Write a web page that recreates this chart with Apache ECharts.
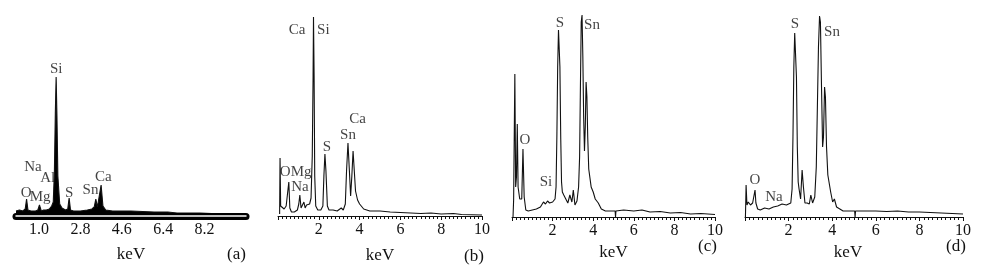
<!DOCTYPE html>
<html><head><meta charset="utf-8">
<script src="https://cdn.jsdelivr.net/npm/echarts@6.0.0/dist/echarts.min.js"></script>
<style>html,body{margin:0;padding:0;background:#fff}#c{width:1000px;height:274px}</style>
</head><body><div id="c"></div>
<script>
// ---- Panel (a) ----
const aKeV = [0, 0.15, 0.3, 0.4, 0.46, 0.52, 0.65, 0.85, 0.95, 1.02, 1.1, 1.2, 1.26, 1.32, 1.45, 1.55, 1.62, 1.67, 1.71, 1.745, 1.78, 1.82, 1.9, 2.0, 2.15, 2.25, 2.31, 2.37, 2.5, 2.8, 3.1, 3.3, 3.4, 3.47, 3.54, 3.6, 3.7, 3.78, 3.9, 4.2, 5.0, 6.0, 6.6, 7.0, 8.0, 9.0, 10];
const aCounts = [5, 6, 5, 7, 17, 6, 5, 5, 6, 11, 5, 6, 8, 6, 7, 10, 14, 45, 103, 139, 100, 40, 12, 8, 6, 7, 18, 6, 5, 5, 6, 7, 9, 17, 9, 11, 31, 10, 6, 5, 5, 4, 4, 3, 3, 2, 2];
const aTickValues = [1.0, 2.8, 4.6, 6.4, 8.2];
const aLabelNames = ['Si', 'Na', 'Al', 'O', 'Mg', 'S', 'Sn', 'Ca'];
const aLabelKeV = [1.75, 0.74, 1.38, 0.44, 1.05, 2.31, 3.24, 3.80];
const aLabelY = [147, 49, 38, 23, 19, 23, 26, 39];

// ---- Panel (b) ----
const bKeV = [0.08, 0.1, 0.13, 0.2, 0.3, 0.4, 0.48, 0.53, 0.58, 0.66, 0.8, 0.95, 1.02, 1.07, 1.13, 1.2, 1.27, 1.33, 1.4, 1.47, 1.55, 1.62, 1.68, 1.72, 1.74, 1.77, 1.8, 1.85, 1.95, 2.1, 2.2, 2.25, 2.3, 2.35, 2.42, 2.5, 2.7, 2.9, 3.1, 3.2, 3.3, 3.36, 3.43, 3.5, 3.56, 3.62, 3.68, 3.74, 3.8, 3.9, 4.0, 4.2, 4.5, 5.0, 5.5, 6.0, 6.5, 7.0, 7.5, 8.0, 8.6, 9.0, 10];
const bCounts = [2, 58, 10, 9, 7, 10, 8, 34, 8, 4, 4, 6, 12, 21, 8, 6, 14, 8, 11, 9, 12, 18, 60, 140, 199, 140, 40, 10, 6, 6, 10, 40, 62, 45, 10, 6, 6, 5, 8, 6, 12, 45, 73, 45, 20, 40, 65, 45, 25, 16, 12, 7, 5, 5, 4, 3.5, 3, 2.5, 3, 2, 2.5, 1.5, 1];
const bLabelNames = ['Ca', 'Si', 'Ca', 'Sn', 'S', 'O', 'Mg', 'Na'];
const bLabelKeV = [0.93, 2.22, 3.90, 3.43, 2.40, 0.35, 1.13, 1.08];
const bLabelY = [186, 186, 97, 81, 69, 44, 44, 29];

// ---- Panel (c) ----
const cKeV = [0.05, 0.08, 0.1, 0.14, 0.18, 0.22, 0.26, 0.3, 0.38, 0.48, 0.54, 0.6, 0.68, 0.8, 1.0, 1.2, 1.4, 1.55, 1.65, 1.75, 1.85, 2.0, 2.12, 2.17, 2.21, 2.25, 2.29, 2.32, 2.36, 2.4, 2.44, 2.48, 2.55, 2.65, 2.75, 2.85, 2.95, 3.02, 3.1, 3.2, 3.28, 3.33, 3.37, 3.41, 3.45, 3.49, 3.53, 3.57, 3.61, 3.65, 3.69, 3.73, 3.78, 3.84, 3.9, 4.0, 4.1, 4.25, 4.4, 4.6, 4.8, 5.08, 5.1, 5.12, 5.5, 6.0, 6.4, 6.8, 7.3, 7.8, 8.3, 8.8, 9.3, 10];
const cCounts = [0, 17, 17, 143, 30, 40, 93, 30, 18, 18, 68, 20, 7, 6, 7, 8, 10, 15, 13, 16, 14, 15, 18, 30, 80, 150, 187, 189, 150, 80, 35, 25, 22, 18, 14, 22, 15, 27, 12, 16, 30, 60, 130, 195, 202, 160, 100, 66, 90, 135, 120, 80, 48, 48, 30, 25, 18, 14, 8, 6, 6, 6, 0, 6, 7, 6, 7, 5, 5.5, 4, 4.5, 3, 3.5, 2.5];
const cLabelNames = ['S', 'Sn', 'O', 'Si'];
const cLabelKeV = [2.36, 3.94, 0.64, 1.67];
const cLabelY = [194, 192, 77, 35];

// ---- Panel (d) ----
const dKeV = [0.02, 0.05, 0.09, 0.15, 0.25, 0.35, 0.42, 0.46, 0.5, 0.58, 0.7, 0.9, 1.1, 1.3, 1.5, 1.7, 1.9, 2.1, 2.16, 2.2, 2.24, 2.28, 2.32, 2.36, 2.4, 2.44, 2.48, 2.55, 2.62, 2.68, 2.75, 2.85, 2.95, 3.02, 3.1, 3.2, 3.27, 3.32, 3.37, 3.42, 3.46, 3.51, 3.56, 3.6, 3.65, 3.69, 3.74, 3.8, 3.86, 3.93, 4.02, 4.1, 4.2, 4.35, 4.5, 4.7, 5.03, 5.05, 5.07, 5.5, 6.0, 6.5, 7.0, 7.5, 8.0, 8.5, 9.0, 9.5, 10];
const dCounts = [0, 32, 12, 15, 12, 14, 12, 27, 14, 8, 7, 9, 8, 10, 11, 13, 12, 14, 28, 80, 150, 184, 185, 140, 70, 35, 28, 18, 47, 30, 14, 14, 13, 22, 14, 20, 50, 110, 170, 201, 195, 130, 70, 80, 130, 120, 70, 42, 44, 25, 15, 18, 10, 8, 6, 6, 6, 0, 6, 6, 6, 5.5, 6, 5, 5, 4.5, 4, 3.5, 3];
const dLabelNames = ['S', 'Sn', 'O', 'Na'];
const dLabelKeV = [2.29, 3.99, 0.46, 1.33];
const dLabelY = [193, 185, 37, 20];

const panelTags = ['(a)', '(b)', '(c)', '(d)'];
const xTitle = 'keV';

const FONT = '"Liberation Serif", "Times New Roman", serif';
const INK = '#111';
const zip = (xs, ys) => xs.map((x, i) => [x, ys[i]]);
const labelData = (n, xs, ys) => n.map((name, i) => ({ name, value: [xs[i], ys[i]] }));

const chart = echarts.init(document.getElementById('c'), null, { renderer: 'canvas' });

const grids = [
  { left: 16, top: 14, width: 230, height: 202 },
  { left: 278, top: 14, width: 204, height: 202 },
  { left: 512, top: 15, width: 203, height: 202 },
  { left: 745, top: 15, width: 218, height: 202 }
];

const txt = { fontFamily: FONT, fontSize: 16, color: INK };
const txtBig = { fontFamily: FONT, fontSize: 17, color: INK };

function stdX(gi, nameGap, namePad) {
  return {
    type: 'value', gridIndex: gi, min: 0, max: 10, interval: 2, position: 'bottom',
    name: xTitle, nameLocation: 'middle', nameGap: nameGap,
    nameTextStyle: Object.assign({}, txtBig, { padding: namePad || 0 }),
    axisLine: { show: true, lineStyle: { color: INK, width: 1 } },
    axisTick: { show: true, length: 4, lineStyle: { color: INK } },
    minorTick: { show: true, splitNumber: 10, length: 3, lineStyle: { color: INK } },
    axisLabel: Object.assign({}, txt, { margin: 6, showMinLabel: false }),
    splitLine: { show: false }, minorSplitLine: { show: false }
  };
}

const xAxes = [
  {
    type: 'value', gridIndex: 0, min: 0, max: 10, position: 'bottom', z: 5,
    name: xTitle, nameLocation: 'middle', nameGap: 30, nameTextStyle: txtBig,
    axisLine: { show: true, lineStyle: { color: '#000', width: 7 } },
    axisTick: { show: false },
    axisLabel: Object.assign({}, txt, { margin: 6, customValues: aTickValues, formatter: v => v.toFixed(1) }),
    splitLine: { show: false }
  },
  {
    type: 'value', gridIndex: 0, min: 0, max: 10, position: 'bottom', z: 6,
    axisLine: { show: true, lineStyle: { color: '#fff', width: 1.5 } },
    axisTick: { show: false }, axisLabel: { show: false }, splitLine: { show: false }
  },
  stdX(1, 31),
  stdX(2, 21),
  stdX(3, 21, [0, 12, 0, 0])
];

const yAxes = [0, 1, 2, 3].map(gi => ({ type: 'value', gridIndex: gi, min: 0, max: 202, show: false }));

const spectra = [zip(aKeV, aCounts), zip(bKeV, bCounts), zip(cKeV, cCounts), zip(dKeV, dCounts)];
const labels = [
  labelData(aLabelNames, aLabelKeV, aLabelY),
  labelData(bLabelNames, bLabelKeV, bLabelY),
  labelData(cLabelNames, cLabelKeV, cLabelY),
  labelData(dLabelNames, dLabelKeV, dLabelY)
];
const xIdx = [0, 2, 3, 4];

const series = [];
spectra.forEach((d, i) => {
  const s = {
    type: 'line', xAxisIndex: xIdx[i], yAxisIndex: i, data: d, showSymbol: false,
    lineStyle: { color: INK, width: 1.1 }, clip: false, z: 2
  };
  if (i === 0) s.areaStyle = { color: '#000', opacity: 1 };
  series.push(s);
});
labels.forEach((d, i) => {
  series.push({
    type: 'scatter', xAxisIndex: xIdx[i], yAxisIndex: i, data: d, symbolSize: 1,
    itemStyle: { color: 'rgba(0,0,0,0)' }, z: 10, silent: true,
    label: { show: true, position: 'inside', formatter: p => p.name, fontFamily: FONT, fontSize: i === 0 ? 15 : 15, color: INK }
  });
});

const tagPos = [[227, 246], [464, 248], [698, 238], [946, 238]];
const titles = panelTags.map((t, i) => ({
  text: t, left: tagPos[i][0], top: tagPos[i][1], padding: 0,
  textStyle: { fontFamily: FONT, fontSize: 17, fontWeight: 'normal', color: INK }
}));

chart.setOption({
  animation: false,
  backgroundColor: '#fff',
  title: titles,
  grid: grids,
  xAxis: xAxes,
  yAxis: yAxes,
  series: series
});
</script>
</body></html>
